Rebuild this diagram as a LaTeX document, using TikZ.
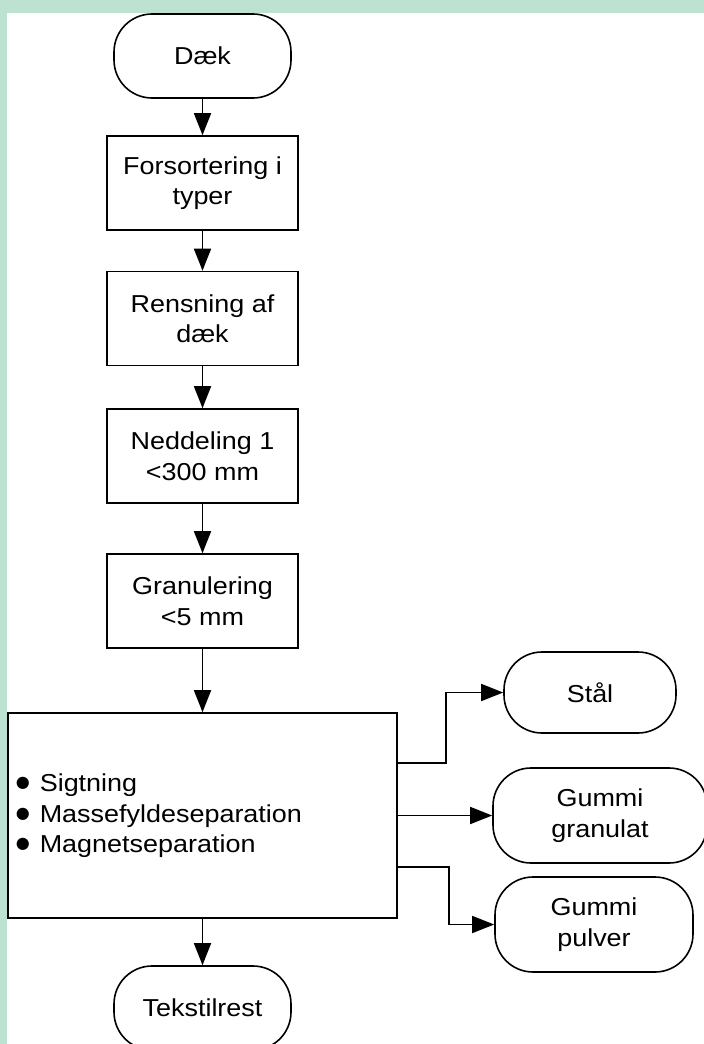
\documentclass[tikz,border=0pt]{standalone}
\usepackage{fontspec}
\setmainfont{Liberation Sans}[FakeStretch=1.1]
\newfontfamily\symfont{DejaVu Sans}
\usetikzlibrary{arrows.meta}
\definecolor{mint}{RGB}{190,226,210}
% one bulleted line of the separation step
\newcommand{\itm}[1]{\makebox[24pt][l]{\raisebox{4pt}{\symfont\fontsize{16}{16}\selectfont ●}}#1}
\begin{document}
\begin{tikzpicture}[x=1pt,y=-1pt,
  every node/.style={font=\fontsize{24.5}{30.5}\selectfont, line width=1.6pt},
  proc/.style={draw, rectangle, minimum width=191pt, minimum height=94pt,
    align=center, inner sep=0pt},
  term/.style={draw, rectangle, rounded corners=38pt, align=center, inner sep=0pt},
  flow/.style={line width=1.6pt, -{Triangle[length=22pt,width=17pt]}}]

  \useasboundingbox (0,0) rectangle (704,1044);
  \fill[mint] (0,0) rectangle (704,1044);
  \fill[white] (7,13) rectangle (704,1044);

  % main process chain
  \node[term, minimum width=177pt, minimum height=84pt] (daek) at (202.5,56) {Dæk};
  \node[proc] (fors) at (202.5,183) {Forsortering i\\typer};
  \node[proc] (rens) at (202.5,318.5) {Rensning af\\dæk};
  \node[proc] (ned) at (202.5,456) {Neddeling 1\\<300 mm};
  \node[proc] (gran) at (202.5,601) {Granulering\\<5 mm};

  % separation step
  \node[draw, rectangle, minimum width=389pt, minimum height=205pt, inner sep=0pt]
    (sep) at (202.5,815.5) {};
  \node[anchor=west, align=left, inner sep=0pt] (list) at (15,816)
    {\itm{Sigtning}\\\itm{Massefyldeseparation}\\\itm{Magnetseparation}};

  % products
  \node[term, minimum width=172pt, minimum height=81pt] (staal) at (590,692.5) {Stål};
  \node[term, minimum width=214pt, minimum height=95pt] (gg) at (600,815.5) {Gummi\\granulat};
  \node[term, minimum width=198pt, minimum height=95pt] (gp) at (594,924.5) {Gummi\\pulver};
  \node[term, minimum width=177pt, minimum height=84pt] (tekst) at (202.5,1008) {Tekstilrest};

  % connectors
  \draw[flow] (daek) -- (fors);
  \draw[flow] (fors) -- (rens);
  \draw[flow] (rens) -- (ned);
  \draw[flow] (ned) -- (gran);
  \draw[flow] (gran) -- (sep);
  \draw[flow] (sep) -- (tekst);
  \draw[flow] ([yshift=52.5pt]sep.east) -- ++(48,0) |- (staal.west);
  \draw[flow] (sep.east) -- (gg.west);
  \draw[flow] ([yshift=-51.5pt]sep.east) -- ++(51,0) |- (gp.west);
\end{tikzpicture}
\end{document}
